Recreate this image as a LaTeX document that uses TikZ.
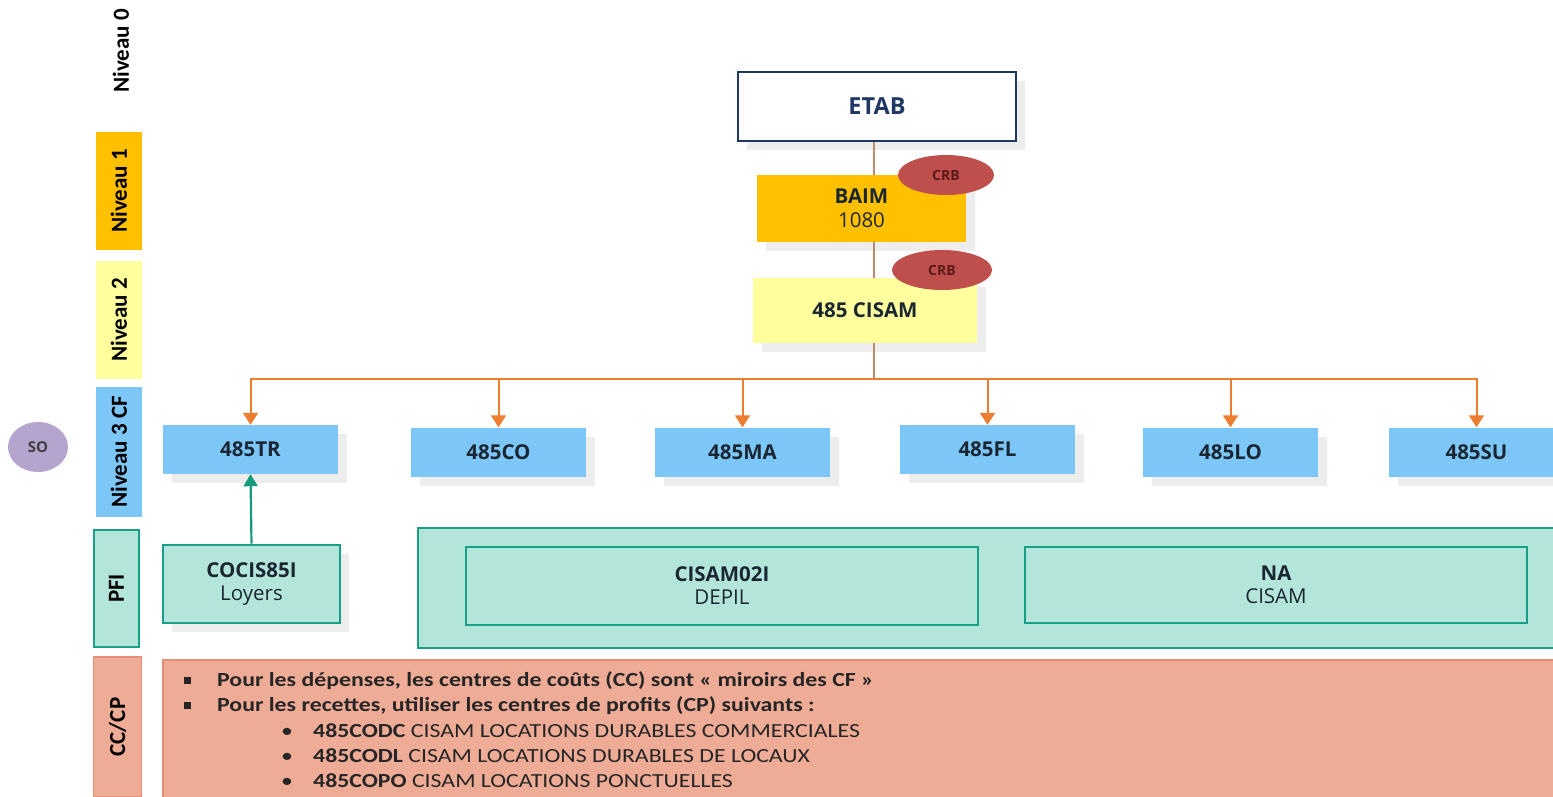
\documentclass[tikz,border=0pt]{standalone}
\usepackage{fontspec}
\setmainfont{Carlito}
\newfontfamily\boxfont{Open Sans}
\newfontfamily\notefont[FakeStretch=1.19]{Carlito}
\usetikzlibrary{arrows.meta,shadows,shapes.geometric}

\definecolor{navy}{HTML}{203864}
\definecolor{gold}{HTML}{FFC000}
\definecolor{paleyellow}{HTML}{FFFF9E}
\definecolor{skyblue}{HTML}{7CC7F8}
\definecolor{mint}{HTML}{B3E5DB}
\definecolor{tealedge}{HTML}{17A085}
\definecolor{tealarrow}{HTML}{169A7C}
\definecolor{salmon}{HTML}{EEAB95}
\definecolor{salmonedge}{HTML}{E39077}
\definecolor{crbred}{HTML}{BF4F4C}
\definecolor{crbtext}{HTML}{5C1A18}
\definecolor{lilac}{HTML}{B5A4CE}
\definecolor{busorange}{HTML}{ED7D31}
\definecolor{stemline}{HTML}{B98A6E}
\definecolor{ink}{HTML}{1B2633}

\tikzset{
  shadowed/.style={drop shadow={shadow xshift=9pt,shadow yshift=-9pt,fill=black!7,opacity=1}},
  boxtext/.style={font=\boxfont\bfseries\fontsize{20.5}{24}\selectfont, text=ink, align=center},
  sidelbl/.style={rectangle, rotate=90, minimum width=118pt, minimum height=46pt, inner sep=0pt,
    font=\bfseries\fontsize{23}{24}\selectfont, text=black},
  lvlthree/.style={rectangle, fill=skyblue, minimum width=175pt, minimum height=49pt, boxtext, shadowed},
  pfibox/.style={rectangle, fill=mint, draw=tealedge, line width=2.6pt, boxtext},
  crb/.style={ellipse, fill=crbred, inner sep=0pt, font=\boxfont\bfseries\fontsize{14}{14}\selectfont, text=crbtext},
  stem/.style={draw=stemline, line width=1.6pt},
  drop/.style={draw=busorange, line width=2pt, -{Triangle[width=15pt,length=12pt]}},
  feed/.style={draw=tealarrow, line width=2.2pt, -{Triangle[width=14pt,length=12pt]}},
  bodytext/.style={anchor=base west, inner sep=0pt, font=\notefont\fontsize{20}{22}\selectfont, text=black!85}
}

\begin{document}
\begin{tikzpicture}[x=1pt,y=-1pt]
\useasboundingbox (0,0) rectangle (1553,796);

% level labels on the left
\node[sidelbl] (n0) at (121,51) {Niveau 0};
\node[sidelbl, fill=gold] (n1) at (119,191) {Niveau 1};
\node[sidelbl, fill=paleyellow] (n2) at (119,320) {Niveau 2};
\node[sidelbl, fill=skyblue, minimum width=130pt] (n3) at (119,452) {Niveau 3 CF};
\node[sidelbl, fill=mint, draw=tealedge, line width=2.5pt, minimum width=117pt, minimum height=45pt] (pfi) at (116.5,588.5) {PFI};
\node[sidelbl, fill=salmon, draw=salmonedge, line width=1.2pt, minimum width=140pt, minimum height=48pt] (cccp) at (117.5,727) {CC/CP};

\node[ellipse, fill=lilac, minimum width=60pt, minimum height=50pt, inner sep=0pt,
  font=\boxfont\bfseries\fontsize{15}{15}\selectfont, text=black!75] (so) at (38,447) {SO};

% hierarchy
\node[rectangle, fill=white, draw=navy, line width=2.5pt, minimum width=278pt, minimum height=69pt,
  boxtext, font=\boxfont\bfseries\fontsize{23.5}{24}\selectfont, text=navy, shadowed] (etab) at (877,106.5) {ETAB};
\node[rectangle, fill=gold, minimum width=209pt, minimum height=67pt, boxtext, shadowed] (baim) at (861.5,208.5)
  {BAIM\\[0pt]{\mdseries 1080}};
\node[rectangle, fill=paleyellow, minimum width=224pt, minimum height=65pt, boxtext, shadowed] (cisam) at (865,310.5)
  {485 CISAM};

\coordinate (bus) at (874,379);

\draw[stem] (etab.south -| bus) -- (baim.north -| bus);
\draw[stem] (baim.south -| bus) -- (cisam.north -| bus);
\draw[stem] (cisam.south -| bus) -- (bus);

\node[crb, minimum width=96pt, minimum height=40pt] (crbone) at (946,175) {CRB};
\node[crb, minimum width=100pt, minimum height=40pt] (crbtwo) at (942,270) {CRB};

% responsibility centres
\node[lvlthree] (tr) at (250.5,449.5) {485TR};
\node[lvlthree] (co) at (498.5,452) {485CO};
\node[lvlthree] (ma) at (742.5,452) {485MA};
\node[lvlthree] (fl) at (987.5,449.5) {485FL};
\node[lvlthree] (lo) at (1230.5,452) {485LO};
\node[lvlthree] (su) at (1476.5,452) {485SU};

\foreach \c in {tr,co,ma,fl,lo,su}
  \draw[drop] (bus) -| (\c.north);

% PFI row
\node[pfibox, minimum width=177pt, minimum height=78pt, shadowed] (cocis) at (251.5,584)
  {COCIS85I\\[-1pt]{\mdseries Loyers}};
\node[rectangle, fill=mint, draw=tealedge, line width=2.6pt, minimum width=1150pt, minimum height=120pt] (pfigroup) at (993,588) {};
\node[pfibox, minimum width=512pt, minimum height=78pt] (depil) at (722,586)
  {CISAM02I\\[-1pt]{\mdseries DEPIL}};
\node[pfibox, minimum width=502pt, minimum height=76pt] (na) at (1276,585)
  {NA\\[-1pt]{\mdseries CISAM}};

\draw[feed] (cocis.north) -- (tr.south);

% CC/CP notes
\node[rectangle, fill=salmon, draw=salmonedge, line width=1.2pt, minimum width=1405pt, minimum height=140pt] (notes) at (865.5,730) {};

\node[bodytext] (b1) at (184,686) {\rule[2pt]{7pt}{7pt}};
\node[bodytext] (l1) at (217,686) {\bfseries Pour les dépenses, les centres de coûts (CC) sont « miroirs des CF »};
\node[bodytext] (b2) at (184,711) {\rule[2pt]{7pt}{7pt}};
\node[bodytext] (l2) at (217,711) {\bfseries Pour les recettes, utiliser les centres de profits (CP) suivants :};
\node[bodytext] (b3) at (281,737) {\textbullet};
\node[bodytext] (l3) at (313,737) {\textbf{485CODC} CISAM LOCATIONS DURABLES COMMERCIALES};
\node[bodytext] (b4) at (281,762) {\textbullet};
\node[bodytext] (l4) at (313,762) {\textbf{485CODL} CISAM LOCATIONS DURABLES DE LOCAUX};
\node[bodytext] (b5) at (281,787) {\textbullet};
\node[bodytext] (l5) at (313,787) {\textbf{485COPO} CISAM LOCATIONS PONCTUELLES};
\end{tikzpicture}
\end{document}
